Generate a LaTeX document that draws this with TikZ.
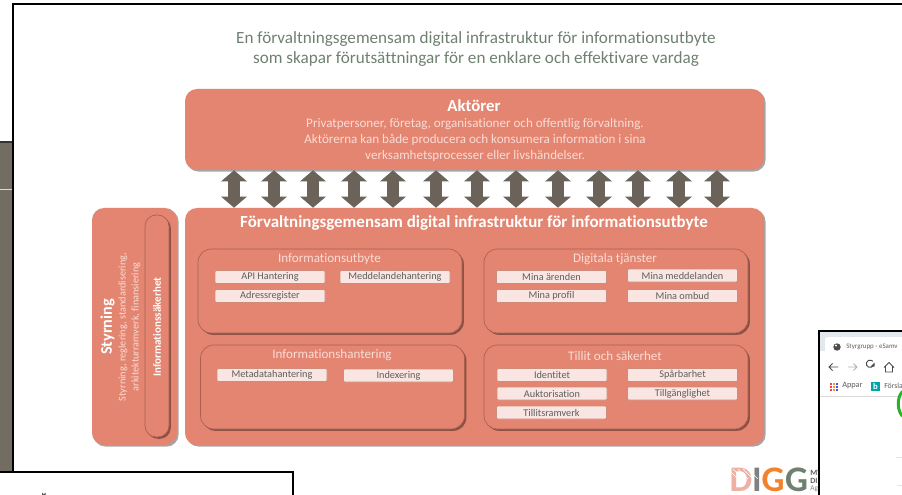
\documentclass[tikz,border=0pt]{standalone}
\usepackage{fontspec}
\setmainfont[Ligatures=NoCommon]{Carlito}
\usetikzlibrary{arrows.meta,shadows}
\definecolor{lax}{HTML}{E38570}
\definecolor{laxdark}{HTML}{A9604F}
\definecolor{rosa}{HTML}{F9E6E2}
\definecolor{rosakant}{HTML}{CF8B7C}
\definecolor{rosatext}{HTML}{FBDCD5}
\definecolor{pil}{HTML}{6B6259}
\definecolor{titel}{HTML}{6F8071}
\definecolor{panel}{HTML}{736C60}
\definecolor{grtext}{HTML}{5E5E5E}
\definecolor{flikrad}{HTML}{E2E8EE}
\def\u{0.75pt}
\newcommand\fp[2]{\fontsize{#1}{#2}\selectfont}
\tikzset{
  x=0.75pt,y=-0.75pt,
  ram/.style={draw=black,line width=1.1pt},
  storbox/.style={rounded corners=9pt,fill=lax,draw=none,inner sep=0pt,
    drop shadow={shadow xshift=1.2pt,shadow yshift=-1.2pt,opacity=.35,fill=black}},
  delbox/.style={rounded corners=10pt,fill=lax,draw=laxdark,line width=0.5pt,inner sep=0pt,
    drop shadow={shadow xshift=1.4pt,shadow yshift=-1.4pt,opacity=.55,fill=black!70!lax},
    minimum width={264*\u},minimum height={84*\u}},
  liten/.style={fill=rosa,draw=rosakant,line width=0.6pt,rounded corners=0.8pt,inner sep=0pt,
    minimum width={110*\u},minimum height={13*\u},text=grtext,font=\fp{7.7}{9}},
  deltitel/.style={text=rosatext,font=\fp{9.8}{11},inner sep=0pt},
  dubbel/.style={draw=pil,line width={12*\u},
    {Triangle[width={25*\u},length={11*\u},fill=pil]}-{Triangle[width={25*\u},length={11*\u},fill=pil]},shorten >=0pt,shorten <=0pt},
}
\begin{document}
\begin{tikzpicture}
\useasboundingbox (0,0) rectangle (902,495);
\fill[white] (0,0) rectangle (902,495);
% background windows
\fill[panel] (0,142) rectangle (13,472);
\draw[black!80,line width=0.8pt] (0,142) -- (13,142);
\draw[white!75!panel,line width=0.4pt] (0,189) -- (12,189);
\draw[ram] (902,4) -- (13,4) -- (13,472);
% title
\node[text=titel,font=\fp{12.85}{15.7},align=center,inner sep=0pt] (titel) at (476,49)
  {En förvaltningsgemensam digital infrastruktur för informationsutbyte\\som skapar förutsättningar för en enklare och effektivare vardag};
% actors
\node[storbox,minimum width={579*\u},minimum height={81*\u}] (akt) at (474.5,129.5) {};
\node[text=white,font=\bfseries\fp{12.6}{14},inner sep=0pt] (akttitel) at (474,106) {Aktörer};
\node[text=rosatext,font=\fp{9.8}{12},align=center,inner sep=0pt] (akttext) at (475,140)
  {Privatpersoner, företag, organisationer och offentlig förvaltning.\\Aktörerna kan både producera och konsumera information i sina\\verksamhetsprocesser  eller livshändelser.};
% infrastructure
\node[storbox,minimum width={579*\u},minimum height={237*\u}] (inf) at (474.5,326.5) {};
\node[text=white,font=\bfseries\fp{12.7}{14},inner sep=0pt] (inftitel) at (474,223) {Förvaltningsgemensam digital infrastruktur för informationsutbyte};
% arrows
\foreach \x in {234,274,313,354,393,436,477,516,558,599,638,679,717}
  \draw[dubbel] (\x,0 |- akt.south) -- (\x,0 |- inf.north);
% governance
\node[storbox,minimum width={85*\u},minimum height={237*\u}] (sty) at (134.5,326.5) {};
\node[delbox,rounded corners=8.5pt,minimum width={24*\u},minimum height={222*\u}] (pill) at (157,326) {};
\node[rotate=90,text=white,font=\bfseries\fp{12.2}{14},inner sep=0pt] (stytitel) at (107.5,327) {Styrning};
\node[rotate=90,text=rosatext,font=\fp{7.7}{9.7},align=center,inner sep=0pt] (stytext) at (129.5,327)
  {Styrning, reglering, standardisering,\\arkitekturramverk, finansiering};
\node[rotate=90,text=white,font=\bfseries\fp{8.3}{9},inner sep=0pt] (infosak) at (157,327) {Informationssäkerhet};
% sub boxes
\node[delbox] (utb) at (330,291) {};
\node[delbox] (hant) at (332.5,387) {};
\node[delbox] (dig) at (616,291) {};
\node[delbox] (till) at (616,387) {};
\node[deltitel] (utbt) at (329.5,259) {Informationsutbyte};
\node[deltitel] (hantt) at (332,355.5) {Informationshantering};
\node[deltitel] (digt) at (615,259.5) {Digitala tjänster};
\node[deltitel] (tillt) at (615,356) {Tillit och säkerhet};
% small boxes
\node[liten] (api) at (270,277) {API Hantering};
\node[liten] (med) at (395,277) {Meddelandehantering};
\node[liten] (adr) at (270,296) {Adressregister};
\node[liten] (meta) at (272,375) {Metadatahantering};
\node[liten] (idx) at (398.5,375.5) {Indexering};
\node[liten] (are) at (551.5,277) {Mina ärenden};
\node[liten] (mmed) at (682.5,275.5) {Mina meddelanden};
\node[liten] (prof) at (551.5,296) {Mina profil};
\node[liten] (omb) at (682.5,296) {Mina ombud};
\node[liten] (iden) at (552,375) {Identitet};
\node[liten] (spar) at (682.5,375) {Spårbarhet};
\node[liten] (auk) at (552,393.5) {Auktorisation};
\node[liten] (tga) at (682.5,393.5) {Tillgänglighet};
\node[liten] (tlr) at (551.5,412.5) {Tillitsramverk};
% logo
\node[text=lax!65,font=\bfseries\fp{27}{27},inner sep=0pt] (lg1) at (741,480) {D};
\node[text=gray,font=\bfseries\fp{27}{27},inner sep=0pt] (lg2) at (757,480) {I};
\node[text=orange!60!lax,font=\bfseries\fp{27}{27},inner sep=0pt] (lg3) at (773,480) {G};
\node[text=titel,font=\bfseries\fp{27}{27},inner sep=0pt] (lg4) at (796.5,480) {G};
\foreach \s in {0,5,10,15,20}
  \draw[white,line width=0.5pt] ({728+\s},469) -- ({738+\s},479);
\node[text=grtext,font=\bfseries\fp{6}{6},anchor=west,inner sep=0pt] (lg5) at (810,473) {MY};
\node[text=grtext,font=\bfseries\fp{6}{6},anchor=west,inner sep=0pt] (lg6) at (810,481) {DI};
\node[text=gray,font=\fp{5.5}{6},anchor=west,inner sep=0pt] (lg7) at (810,489) {Ag};
% lower left window
\fill[white] (0,472) rectangle (293,495);
\draw[ram] (0,472) -- (293,472) -- (293,495);
\fill[titel!70!black] (42,495) -- (42,492.5) arc (180:0:1.8) -- (45.6,495) -- cycle;
% browser window
\fill[white] (819,331) rectangle (902,495);
\begin{scope}
\clip (819,331) rectangle (902,495);
\fill[flikrad] (820,332) rectangle (902,351);
\fill[white,rounded corners=2pt] (825,337) rectangle (910,358);
\fill[white] (820,351) rectangle (902,396);
\draw[black!15,line width=0.5pt] (820,396.5) -- (902,396.5);
\fill[black!70] (837,347) circle (3.7);
\fill[white] (836,345.5) circle (1.1);
\node[text=grtext,font=\fp{5.2}{7},anchor=west,inner sep=0pt] (flik) at (846,347) {Styrgrupp - eSamv};
% toolbar icons
\draw[black!70,line width=0.6pt] (838,367) -- (829,367) (832.5,363.5) -- (829,367) -- (832.5,370.5);
\draw[black!30,line width=0.6pt] (848,367) -- (857,367) (853.5,363.5) -- (857,367) -- (853.5,370.5);
\draw[black!70,line width=0.7pt] (873.5,365) arc (20:320:3.7);
\fill[black!70] (874.5,362.5) -- (874.5,366.5) -- (870.5,366.5) -- cycle;
\draw[black!70,line width=0.6pt] (884,367.5) -- (889,362.5) -- (894,367.5) (885.5,366.5) -- (885.5,372) -- (892.5,372) -- (892.5,366.5);
% bookmarks
\foreach \a/\c in {0/red!75,1/orange!85,2/blue!70}
  \foreach \b in {0,1,2}
    \fill[\c] ({829.5+3*\a},{382.5+3*\b}) rectangle +(2,2);
\node[text=grtext,font=\fp{6.2}{7},anchor=west,inner sep=0pt] (appar) at (842,386) {Appar};
\fill[teal!70!cyan] (871,382) rectangle (880,391);
\node[text=white,font=\bfseries\fp{6.5}{7},inner sep=0pt] (bing) at (875.5,386) {b};
\node[text=grtext,font=\fp{5.8}{7},anchor=west,inner sep=0pt] (forslag) at (884,386) {Försla};
% page contents
\draw[green!65!black!85,line width=2.2pt] (907,416) arc (70:260:6.5 and 13);
\draw[black!10,line width=0.5pt] (896,457) -- (902,457) (897,485) -- (902,485);
\end{scope}
\draw[ram] (902,331) -- (819,331) -- (819,495);
\end{tikzpicture}
\end{document}
